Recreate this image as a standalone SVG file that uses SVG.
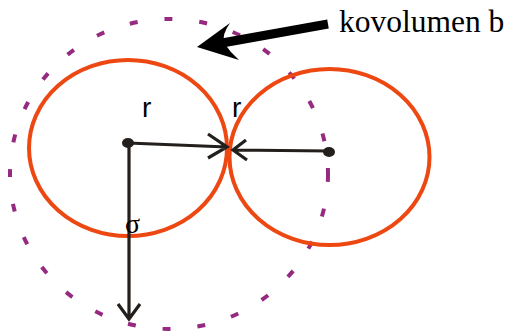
<svg xmlns="http://www.w3.org/2000/svg" width="507" height="331" viewBox="0 0 507 331">
<style>
.circ{fill:none;stroke:#ee4812;stroke-width:4}
.dash{fill:none;stroke:#952a80;stroke-width:4;stroke-dasharray:8 27}
.ln{fill:none;stroke:#231f1c;stroke-width:3.2;stroke-linecap:butt}
.dot{fill:#231f1c}
.sans{font-family:"Liberation Sans","DejaVu Sans",sans-serif;fill:#000}
.serif{font-family:"Liberation Serif","DejaVu Serif","Times New Roman",serif;fill:#000}
</style>
<rect width="507" height="331" fill="#fff"/>
<g id="kovolumen">
<ellipse class="dash" cx="169" cy="174" rx="159" ry="155"/>
</g>
<g id="particle-left">
<ellipse class="circ" cx="128" cy="148" rx="99" ry="88"/>
<ellipse class="dot" cx="128" cy="143" rx="6" ry="5"/>
</g>
<g id="particle-right">
<ellipse class="circ" cx="329.5" cy="157" rx="100" ry="88"/>
<ellipse class="dot" cx="329" cy="152" rx="6" ry="5"/>
</g>
<g id="connectors">
<path class="ln" d="M128,143 L227,147 M208,134 L227,147 L208,158"/>
<path class="ln" d="M329,151 L233,150 M246,140 L233,150 L247,160"/>
<path class="ln" d="M129,143 L129,319 M118,304 L129,319 L140,304"/>
<path d="M328,24 L222,43" stroke="#000" stroke-width="9" fill="none"/>
<path d="M197,47 L230,23 Q222,34 224,43 Q230,52 239,60 Z" fill="#000"/>
</g>
<g id="labels">
<text class="sans" x="142" y="117" font-size="28">r</text>
<text class="sans" x="232" y="117" font-size="28">r</text>
<text class="serif" x="125" y="233" font-size="28">σ</text>
<text class="serif" x="339" y="32" font-size="31.5">kovolumen b</text>
</g>
</svg>
